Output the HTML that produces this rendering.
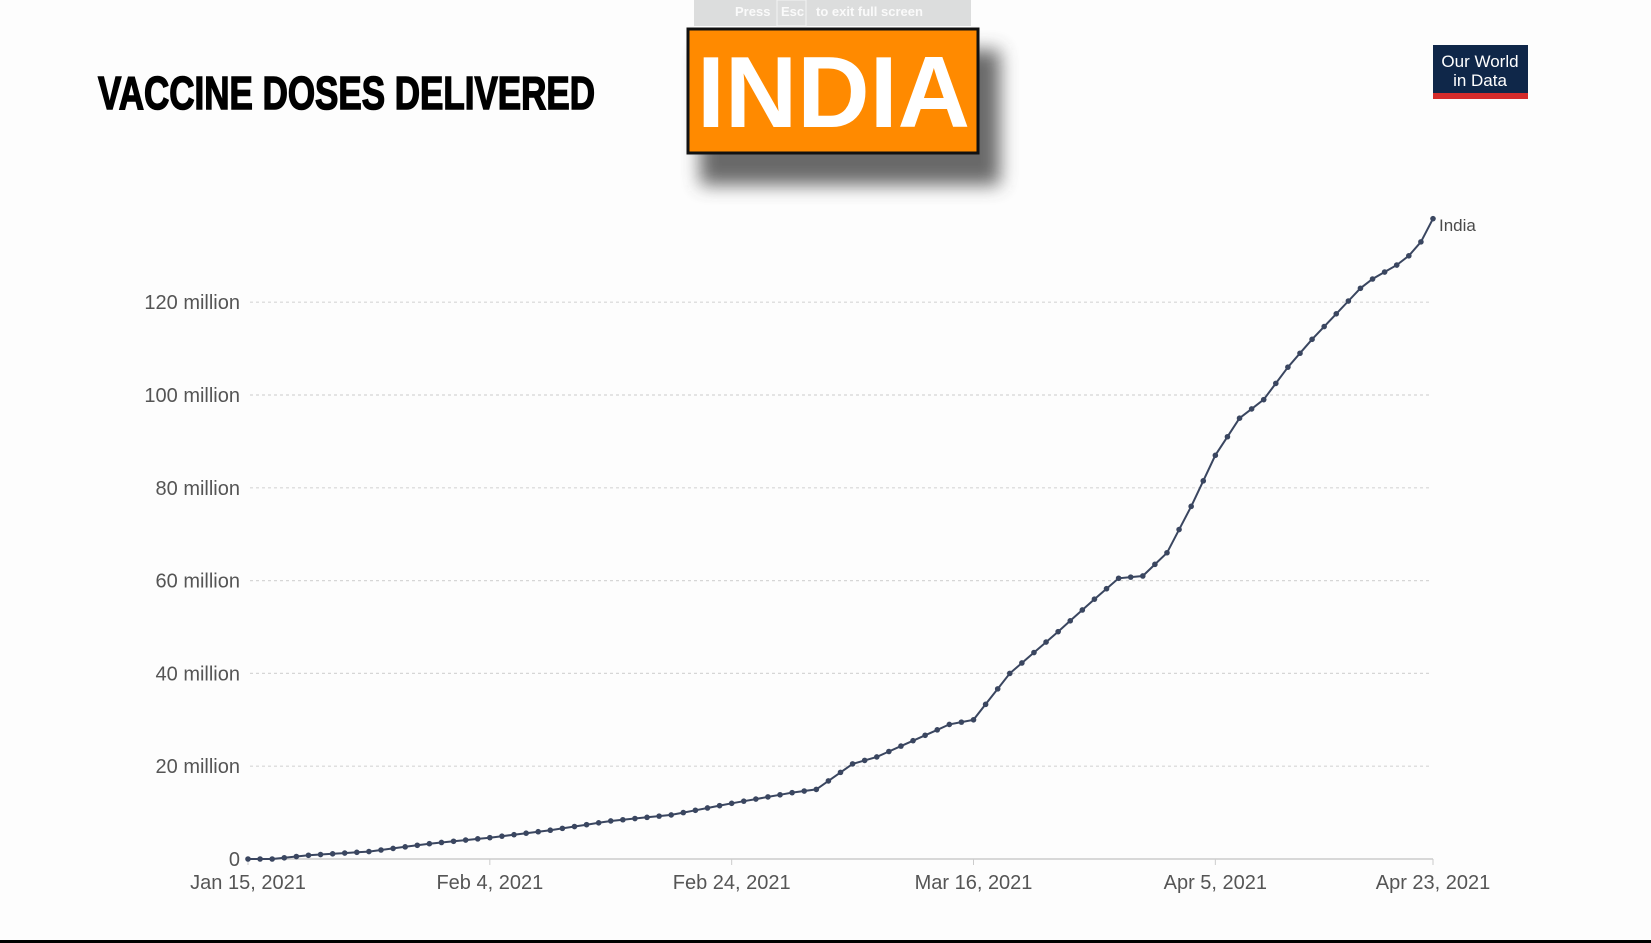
<!DOCTYPE html>
<html><head><meta charset="utf-8"><style>
html,body{margin:0;padding:0;background:#fff;width:1651px;height:943px;overflow:hidden}
svg{display:block}
</style></head><body>
<svg id="s" width="1651" height="943" xmlns="http://www.w3.org/2000/svg" font-family="Liberation Sans, sans-serif">
<defs><filter id="bl" x="-20%" y="-20%" width="150%" height="160%"><feGaussianBlur stdDeviation="9"/></filter></defs>
<rect width="1651" height="943" fill="#fdfdfd"/>
<rect x="694" y="0" width="277" height="26" fill="#dcdddd"/>
<rect x="777" y="0" width="29" height="26" fill="none" stroke="#f2f2f2" stroke-width="1"/>
<text x="735" y="16" font-size="13" font-weight="bold" fill="#fafafa">Press</text>
<text x="781" y="16" font-size="13" font-weight="bold" fill="#fafafa">Esc</text>
<text x="816" y="16" font-size="13" font-weight="bold" fill="#fafafa">to exit full screen</text>
<text x="98" y="109" font-size="46" font-weight="bold" fill="#000" textLength="497" lengthAdjust="spacingAndGlyphs" stroke="#000" stroke-width="1.5">VACCINE DOSES DELIVERED</text>
<rect x="700" y="50" width="300" height="135" fill="#444" filter="url(#bl)" opacity="0.8"/>
<rect x="688" y="29" width="290" height="124" fill="#ff8a00" stroke="#111" stroke-width="3"/>
<text x="697" y="127" font-size="101" font-weight="bold" fill="#fff" textLength="273" lengthAdjust="spacingAndGlyphs">INDIA</text>
<rect x="1433" y="45" width="95" height="50" fill="#0f2749"/>
<rect x="1433" y="93" width="95" height="6" fill="#d52b2b"/>
<text x="1480" y="67" font-size="17" fill="#fff" text-anchor="middle">Our World</text>
<text x="1480" y="86" font-size="17" fill="#fff" text-anchor="middle">in Data</text>
<g id="grid"></g>
<g id="plot"></g>
<text x="1439" y="231" font-size="17" fill="#4a4a4a">India</text>
<rect x="0" y="940" width="1651" height="3" fill="#000"/>
</svg>
<script>
var NS="http://www.w3.org/2000/svg";
function el(p,t,a,txt){var e=document.createElementNS(NS,t);for(var k in a)e.setAttribute(k,a[k]);if(txt)e.textContent=txt;p.appendChild(e);return e;}
var g=document.getElementById("grid"),p=document.getElementById("plot");
var x0=248,x1=1433,yb=859,per=92.8/20;
function Y(v){return yb-v*per;}
function X(d){return x0+d*(x1-x0)/98;}
var labs=["0","20 million","40 million","60 million","80 million","100 million","120 million"];
for(var i=0;i<7;i++){var y=Y(i*20);
 if(i>0)el(g,"line",{x1:250,x2:1430,y1:y,y2:y,stroke:"#d6d6d6","stroke-dasharray":"3,3","stroke-width":1.2});
 el(g,"text",{x:240,y:y+7,"font-size":20,fill:"#555","text-anchor":"end"},labs[i]);}
el(g,"line",{x1:248,x2:1433,y1:yb,y2:yb,stroke:"#ccc","stroke-width":1.5});
var xl=["Jan 15, 2021","Feb 4, 2021","Feb 24, 2021","Mar 16, 2021","Apr 5, 2021","Apr 23, 2021"],xd=[0,20,40,60,80,98];
for(var i=0;i<6;i++){var x=X(xd[i]);el(g,"line",{x1:x,x2:x,y1:yb,y2:yb+6,stroke:"#ccc"});
 el(g,"text",{x:x,y:889,"font-size":20,fill:"#555","text-anchor":"middle"},xl[i]);}
var K=[[0,0],[2,0],[5,0.8],[10,1.6],[15,3.3],[20,4.6],[25,6.2],[30,8.2],[35,9.5],[40,12],[45,14.3],[47,15],[50,20.5],[52,22],[55,25.5],[58,29],[60,30],[63,40],[65,44.5],[67,49],[70,56],[72,60.5],[74,61],[76,66],[78,76],[80,87],[82,95],[84,99],[86,106],[88,112],[90,117.5],[92,123],[93,125],[95,128],[96,130],[97,133],[98,138]];
function val(d){for(var i=1;i<K.length;i++){if(d<=K[i][0]){var a=K[i-1],b=K[i];return a[1]+(b[1]-a[1])*(d-a[0])/(b[0]-a[0]);}}return 138;}
var pts=[];for(var d=0;d<=98;d++){pts.push(X(d).toFixed(1)+","+Y(val(d)).toFixed(1));}
el(p,"polyline",{points:pts.join(" "),fill:"none",stroke:"#3a4660","stroke-width":2});
for(var d=0;d<=98;d++)el(p,"circle",{cx:X(d),cy:Y(val(d)),r:2.8,fill:"#3a4660"});
</script>
</body></html>
